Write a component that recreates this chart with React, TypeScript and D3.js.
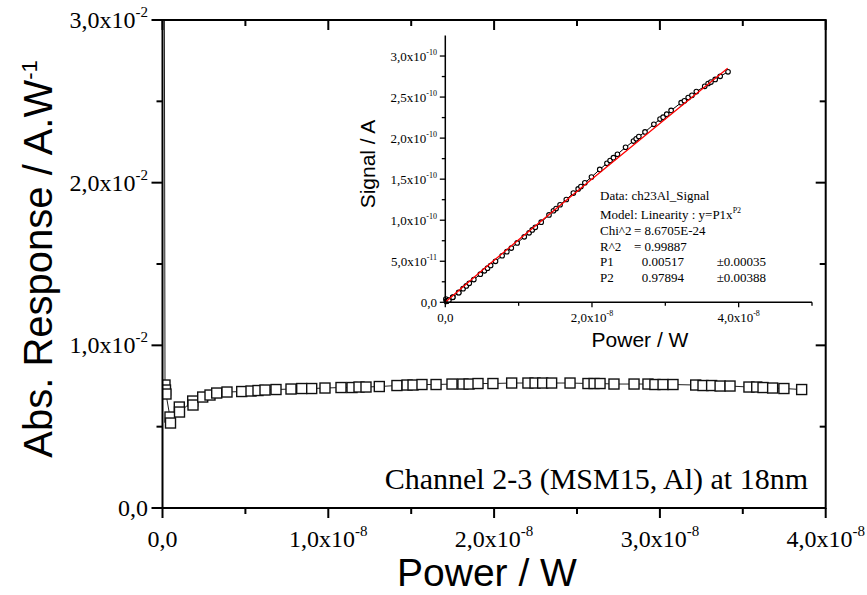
import React from "react";
import * as d3 from "d3";

const W = 867;
const H = 595;

// Main plot: power in units of 1e-8 W, absolute response in units of 1e-2 A/W
const mainPower = [0.008, 0.0151, 0.0181, 0.0211, 0.0452, 0.0483, 0.1013, 0.1025, 0.1821, 0.184, 0.2425, 0.2865, 0.3269, 0.389, 0.4777, 0.5338, 0.576, 0.6182, 0.6846, 0.775, 0.8396, 0.8999, 0.9801, 1.0766, 1.143, 1.1852, 1.2274, 1.3076, 1.414, 1.475, 1.511, 1.565, 1.65, 1.746, 1.812, 1.849, 1.903, 1.993, 2.106, 2.204, 2.247, 2.293, 2.347, 2.458, 2.566, 2.603, 2.639, 2.723, 2.844, 2.928, 2.97, 3.019, 3.079, 3.216, 3.26, 3.312, 3.363, 3.423, 3.537, 3.584, 3.622, 3.68, 3.748, 3.855];
const mainResponse = [5.0, 0.756, 0.7253, 0.7007, 0.5593, 0.5224, 0.6208, 0.59, 0.6576, 0.6331, 0.6822, 0.6945, 0.7068, 0.713, 0.716, 0.7191, 0.7222, 0.7253, 0.7283, 0.7314, 0.7345, 0.7345, 0.7376, 0.7406, 0.7406, 0.7437, 0.7437, 0.7468, 0.7529, 0.756, 0.756, 0.7591, 0.7591, 0.7621, 0.7621, 0.7621, 0.7652, 0.7652, 0.7683, 0.7683, 0.7683, 0.7683, 0.7683, 0.7683, 0.7652, 0.7652, 0.7652, 0.7621, 0.7621, 0.7621, 0.7591, 0.7591, 0.7591, 0.756, 0.7529, 0.7529, 0.7498, 0.7498, 0.7437, 0.7437, 0.7406, 0.7376, 0.7345, 0.7283];

// Inset: power in units of 1e-8 W, signal in units of 1e-10 A
const insetPower = mainPower;
const insetSignal = [0.04, 0.0114, 0.0131, 0.0148, 0.0253, 0.0252, 0.0629, 0.0605, 0.1197, 0.1165, 0.1654, 0.199, 0.2311, 0.2774, 0.342, 0.3839, 0.416, 0.4484, 0.4986, 0.5668, 0.6167, 0.661, 0.7229, 0.7973, 0.8465, 0.8814, 0.9128, 0.9765, 1.0646, 1.1151, 1.1423, 1.188, 1.2525, 1.3306, 1.3809, 1.4091, 1.4562, 1.525, 1.618, 1.6933, 1.7264, 1.7617, 1.8032, 1.8885, 1.9635, 1.9918, 2.0194, 2.0752, 2.1674, 2.2314, 2.2545, 2.2917, 2.3373, 2.4313, 2.4545, 2.4936, 2.5216, 2.5666, 2.6305, 2.6654, 2.6825, 2.7144, 2.7529, 2.8076];

// Fit curve y = P1 x^P2 sampled (same units as inset)
const fitPower = [0, 0.05, 0.5, 1, 2, 3, 3.85];
const fitSignal = [0, 0.0406, 0.3868, 0.762, 1.502, 2.234, 2.85];

// Ticks
const mainXMajor = [0, 1, 2, 3, 4];
const mainXLabels = ["0,0", "1,0x10", "2,0x10", "3,0x10", "4,0x10"];
const mainXExp = ["", "-8", "-8", "-8", "-8"];
const mainXMinor = [0.5, 1.5, 2.5, 3.5];
const mainYMajor = [0, 1, 2, 3];
const mainYLabels = ["0,0", "1,0x10", "2,0x10", "3,0x10"];
const mainYExp = ["", "-2", "-2", "-2"];
const mainYMinor = [0.5, 1.5, 2.5];

const insetXMajor = [0, 2, 4];
const insetXLabels = ["0,0", "2,0x10", "4,0x10"];
const insetXExp = ["", "-8", "-8"];
const insetXMinor = [1, 3, 5];
const insetYMajor = [0, 0.5, 1, 1.5, 2, 2.5, 3];
const insetYLabels = ["0,0", "5,0x10", "1,0x10", "1,5x10", "2,0x10", "2,5x10", "3,0x10"];
const insetYExp = ["", "-11", "-10", "-10", "-10", "-10", "-10"];
const insetYMinor = [0.25, 0.75, 1.25, 1.75, 2.25, 2.75];

const fitLines = [
  ["Data: ch23Al_Signal"],
  ["Model: Linearity : y=P1x", "P2"],
  ["Chi^2", "=  8.6705E-24"],
  ["R^2", "=  0.99887"],
  ["P1", "0.00517", "±0.00035"],
  ["P2", "0.97894", "±0.00388"],
];

const SERIF = "'Liberation Serif', 'Times New Roman', serif";
const SANS = "'Liberation Sans', Arial, sans-serif";

export default function App() {
  const x = d3.scaleLinear().domain([0, 4]).range([162.5, 825.7]);
  const y = d3.scaleLinear().domain([0, 3]).range([508, 20]);
  const ix = d3.scaleLinear().domain([0, 5]).range([445.3, 812]);
  const iy = d3.scaleLinear().domain([0, 3.25]).range([302.3, 35.5]);

  const mainPts = mainPower.map((p, i) => [p, mainResponse[i]] as [number, number]);
  const insetPts = insetPower.map((p, i) => [p, insetSignal[i]] as [number, number]);
  const fitPts = fitPower.map((p, i) => [p, fitSignal[i]] as [number, number]);

  const mainLine = d3.line<[number, number]>().x((d) => x(d[0])).y((d) => y(d[1]));
  const insetLine = d3.line<[number, number]>().x((d) => ix(d[0])).y((d) => iy(d[1]));

  const [x0, x1] = x.range();
  const [y0, y1] = y.range();
  const sq = 10;

  const fitY = [199.5, 218.5, 235, 250.5, 266, 281.5];

  return (
    <svg width={W} height={H} style={{ position: "absolute", left: 0, top: 0, background: "#fff" }}>
      <defs>
        <clipPath id="plotClip">
          <rect x={x0} y={y1} width={x1 - x0} height={y0 - y1} />
        </clipPath>
      </defs>
      <rect x={0} y={0} width={W} height={H} fill="#fff" />

      {/* main data */}
      <g clipPath="url(#plotClip)">
        <path d={mainLine(mainPts) || ""} fill="none" stroke="#222" strokeWidth={1} />
        {mainPts.map((d, i) => (
          <rect key={i} x={x(d[0]) - sq / 2} y={y(d[1]) - sq / 2} width={sq} height={sq} fill="#fff" stroke="#111" strokeWidth={1.4} />
        ))}
      </g>

      {/* main frame */}
      <rect x={x0} y={y1} width={x1 - x0} height={y0 - y1} fill="none" stroke="#000" strokeWidth={2} />

      {/* main x ticks */}
      {mainXMajor.map((v, i) => (
        <g key={"xm" + i}>
          <line x1={x(v)} x2={x(v)} y1={y0} y2={y0 + 10} stroke="#000" strokeWidth={2} />
          <line x1={x(v)} x2={x(v)} y1={y1} y2={y1 + 10} stroke="#000" strokeWidth={2} />
          <text x={x(v)} y={547} textAnchor="middle" fontFamily={SERIF} fontSize={24} fill="#000">
            <tspan>{mainXLabels[i]}</tspan>
            {mainXExp[i] && <tspan dy={-11} fontSize={15}>{mainXExp[i]}</tspan>}
          </text>
        </g>
      ))}
      {mainXMinor.map((v, i) => (
        <g key={"xn" + i}>
          <line x1={x(v)} x2={x(v)} y1={y0} y2={y0 + 6} stroke="#000" strokeWidth={2} />
          <line x1={x(v)} x2={x(v)} y1={y1} y2={y1 + 6} stroke="#000" strokeWidth={2} />
        </g>
      ))}

      {/* main y ticks */}
      {mainYMajor.map((v, i) => (
        <g key={"ym" + i}>
          <line x1={x0 - 11} x2={x0} y1={y(v)} y2={y(v)} stroke="#000" strokeWidth={2} />
          <line x1={x1 - 10} x2={x1} y1={y(v)} y2={y(v)} stroke="#000" strokeWidth={2} />
          <text x={148} y={y(v) + 8} textAnchor="end" fontFamily={SERIF} fontSize={24} fill="#000">
            <tspan>{mainYLabels[i]}</tspan>
            {mainYExp[i] && <tspan dy={-11} fontSize={15}>{mainYExp[i]}</tspan>}
          </text>
        </g>
      ))}
      {mainYMinor.map((v, i) => (
        <g key={"yn" + i}>
          <line x1={x0 - 6} x2={x0} y1={y(v)} y2={y(v)} stroke="#000" strokeWidth={2} />
          <line x1={x1 - 6} x2={x1} y1={y(v)} y2={y(v)} stroke="#000" strokeWidth={2} />
        </g>
      ))}

      {/* main axis titles */}
      <text x={487} y={586} textAnchor="middle" fontFamily={SANS} fontSize={39} fill="#000">Power / W</text>
      <text transform="translate(52,259) rotate(-90)" textAnchor="middle" fontFamily={SANS} fontSize={40} fill="#000">
        <tspan>Abs. Response / A.W</tspan>
        <tspan dy={-15} fontSize={22}>-1</tspan>
      </text>

      <text x={808} y={489} textAnchor="end" fontFamily={SERIF} fontSize={30} fill="#000">Channel 2-3 (MSM15, Al) at 18nm</text>

      {/* inset */}
      <g>
        <path d={insetLine(insetPts) || ""} fill="none" stroke="#000" strokeWidth={1} />
        {insetPts.map((d, i) => (
          <circle key={i} cx={ix(d[0])} cy={iy(d[1])} r={2.3} fill="#fff" stroke="#000" strokeWidth={1.1} />
        ))}
        <path d={insetLine(fitPts) || ""} fill="none" stroke="#ff0000" strokeWidth={1.3} />

        <line x1={ix(0)} x2={ix(0)} y1={iy(0)} y2={iy(3.25)} stroke="#000" strokeWidth={1.5} />
        <line x1={ix(0)} x2={ix(5)} y1={iy(0)} y2={iy(0)} stroke="#000" strokeWidth={1.5} />

        {insetXMajor.map((v, i) => (
          <g key={"ixm" + i}>
            <line x1={ix(v)} x2={ix(v)} y1={iy(0)} y2={iy(0) + 5} stroke="#000" strokeWidth={1.3} />
            <text x={ix(v)} y={322} textAnchor="middle" fontFamily={SERIF} fontSize={13} fill="#000">
              <tspan>{insetXLabels[i]}</tspan>
              {insetXExp[i] && <tspan dy={-6} fontSize={8}>{insetXExp[i]}</tspan>}
            </text>
          </g>
        ))}
        {insetXMinor.map((v, i) => (
          <line key={"ixn" + i} x1={ix(v)} x2={ix(v)} y1={iy(0)} y2={iy(0) + 3.5} stroke="#000" strokeWidth={1.3} />
        ))}
        {insetYMajor.map((v, i) => (
          <g key={"iym" + i}>
            <line x1={ix(0) - 5.5} x2={ix(0)} y1={iy(v)} y2={iy(v)} stroke="#000" strokeWidth={1.3} />
            <text x={437} y={iy(v) + 4.5} textAnchor="end" fontFamily={SERIF} fontSize={13} fill="#000">
              <tspan>{insetYLabels[i]}</tspan>
              {insetYExp[i] && <tspan dy={-6} fontSize={8}>{insetYExp[i]}</tspan>}
            </text>
          </g>
        ))}
        {insetYMinor.map((v, i) => (
          <line key={"iyn" + i} x1={ix(0) - 3.5} x2={ix(0)} y1={iy(v)} y2={iy(v)} stroke="#000" strokeWidth={1.3} />
        ))}

        <text x={640} y={347} textAnchor="middle" fontFamily={SANS} fontSize={21} fill="#000">Power / W</text>
        <text transform="translate(375,164) rotate(-90)" textAnchor="middle" fontFamily={SANS} fontSize={21} fill="#000">Signal / A</text>

        {/* fit results */}
        <g fontFamily={SERIF} fontSize={13} fill="#000">
          <text x={600} y={fitY[0]}>{fitLines[0][0]}</text>
          <text x={600} y={fitY[1]}>
            <tspan>{fitLines[1][0]}</tspan>
            <tspan dy={-6} fontSize={8}>{fitLines[1][1]}</tspan>
          </text>
          <text x={600} y={fitY[2]}>{fitLines[2][0]}</text>
          <text x={634} y={fitY[2]}>{fitLines[2][1]}</text>
          <text x={600} y={fitY[3]}>{fitLines[3][0]}</text>
          <text x={634} y={fitY[3]}>{fitLines[3][1]}</text>
          <text x={600} y={fitY[4]}>{fitLines[4][0]}</text>
          <text x={641.7} y={fitY[4]}>{fitLines[4][1]}</text>
          <text x={716.7} y={fitY[4]}>{fitLines[4][2]}</text>
          <text x={600} y={fitY[5]}>{fitLines[5][0]}</text>
          <text x={641.7} y={fitY[5]}>{fitLines[5][1]}</text>
          <text x={716.7} y={fitY[5]}>{fitLines[5][2]}</text>
        </g>
      </g>
    </svg>
  );
}
